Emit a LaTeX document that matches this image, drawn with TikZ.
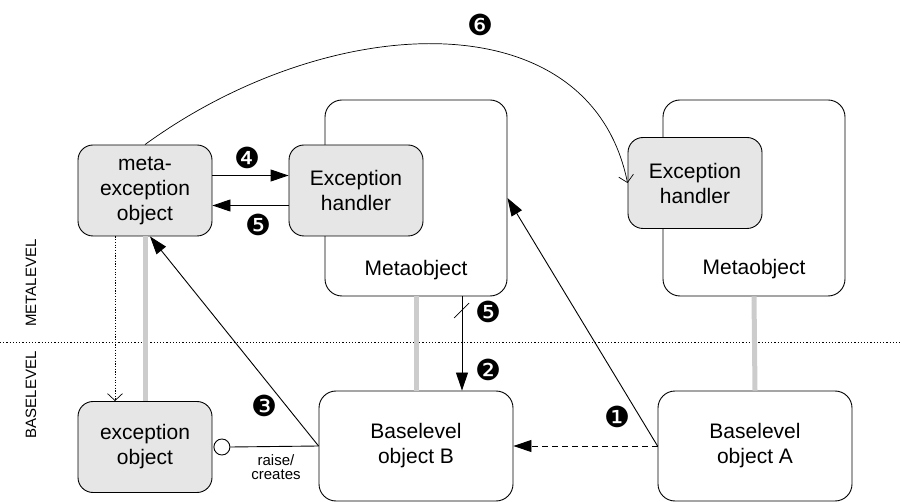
\documentclass[tikz,border=0pt]{standalone}
\usepackage{fontspec}
\setmainfont{Liberation Sans}
\newfontfamily\numfont{DejaVu Sans}
\usetikzlibrary{arrows.meta,calc}

\definecolor{boxgray}{HTML}{E6E6E6}
\definecolor{linkgray}{HTML}{CCCCCC}

\tikzset{
  obj/.style={draw, line width=0.9pt, rounded corners=17pt, fill=white,
    align=center, inner sep=0pt},
  excbox/.style={draw, line width=0.9pt, rounded corners=15pt, fill=boxgray,
    align=center, inner sep=0pt, minimum width=134pt, minimum height=91pt},
  baseobj/.style={obj, minimum width=194pt, minimum height=110pt},
  metaobj/.style={obj, minimum width=182pt, minimum height=196pt},
  txt/.style={font=\fontsize{21}{25}\selectfont},
  link/.style={line width=5pt, draw=linkgray},
  big/.style={line width=0.9pt, -{Triangle[length=18pt,width=12pt]}},
  thin/.style={line width=0.7pt, -{Straight Barb[length=7pt,width=15pt]}},
  num/.style={font=\numfont\fontsize{29}{29}\selectfont, inner sep=0pt},
  side/.style={font=\fontsize{15}{15}\selectfont, rotate=90, inner sep=0pt},
}

\begin{document}
\begin{tikzpicture}[x=1pt, y=-1pt]
  \useasboundingbox (0,0) rectangle (902,502);

  % level separator and level names
  \draw[line width=0.7pt, dash pattern=on 1.2pt off 2pt] (0,342) -- (902,342);
  \node[side] (metalabel) at (31,283) {METALEVEL};
  \node[side] (baselabel) at (31,395) {BASELEVEL};

  % metaobjects
  \node[metaobj, txt] (moL) at (416,198) {};
  \node[txt] (moLt) at (416,270) {Metaobject};
  \node[metaobj, txt] (moR) at (754,198) {};
  \node[txt] (moRt) at (754,269) {Metaobject};

  % exception handlers and meta-exception object
  \node[excbox, txt] (ehL) at (356,190.5) {Exception\\handler};
  \node[excbox, txt] (ehR) at (695,183) {Exception\\handler};
  \node[excbox, txt] (mexc) at (145,190.5) {meta-\\exception\\object};

  % baselevel objects
  \node[excbox, txt] (eo) at (145,447) {exception\\object};
  \node[baseobj, txt] (baseB) at (416,446) {Baselevel\\object B};
  \node[baseobj, txt] (baseA) at (755,446) {Baselevel\\object A};

  % meta links between levels
  \draw[link] (mexc.south) -- (eo.north);
  \draw[link] (moL.south) -- (baseB.north);
  \draw[link] (moR.south) -- (baseA.north);

  % raise / creates
  \node[circle, draw, line width=0.9pt, fill=white, minimum size=16pt,
    inner sep=0pt, anchor=west] (ring) at ([xshift=1pt]eo.east) {};
  \draw[line width=0.9pt] (baseB.west) -- (ring.east);
  \node[font=\fontsize{15}{14}\selectfont, align=center] (raise) at (276,467) {raise/\\creates};

  % interactions (yshift is in page units: positive is upwards)
  \draw[big, dashed, dash pattern=on 6pt off 4pt] (baseA.west) -- (baseB.east);
  \draw[big] (baseA.west) -- (moL.east);
  \draw[big] ([xshift=46pt]moL.south) -- ([xshift=46pt]moL.south |- baseB.north);
  \draw[line width=0.7pt] (454,318) -- (469,303);
  \draw[big] (baseB.west) -- ([xshift=5pt]mexc.south);
  \draw[big] ([yshift=15pt]mexc.east) -- ([yshift=15pt]ehL.west);
  \draw[big] ([yshift=-15pt]ehL.west) -- ([yshift=-15pt]mexc.east);
  \draw[thin, dash pattern=on 1.2pt off 1.5pt]
    ([xshift=-30pt]mexc.south) -- ([xshift=-30pt]eo.north);
  \draw[thin] (mexc.north) .. controls (330,10) and (590,-2) .. (ehR.west);

  % step numbers
  \node[num] (n1) at (617,417) {❶};
  \node[num] (n2) at (488,370) {❷};
  \node[num] (n3) at (264,406) {❸};
  \node[num] (n4) at (247,158) {❹};
  \node[num] (n5a) at (258,225) {❺};
  \node[num] (n5b) at (488,312) {❺};
  \node[num] (n6) at (480,25) {❻};
\end{tikzpicture}
\end{document}
